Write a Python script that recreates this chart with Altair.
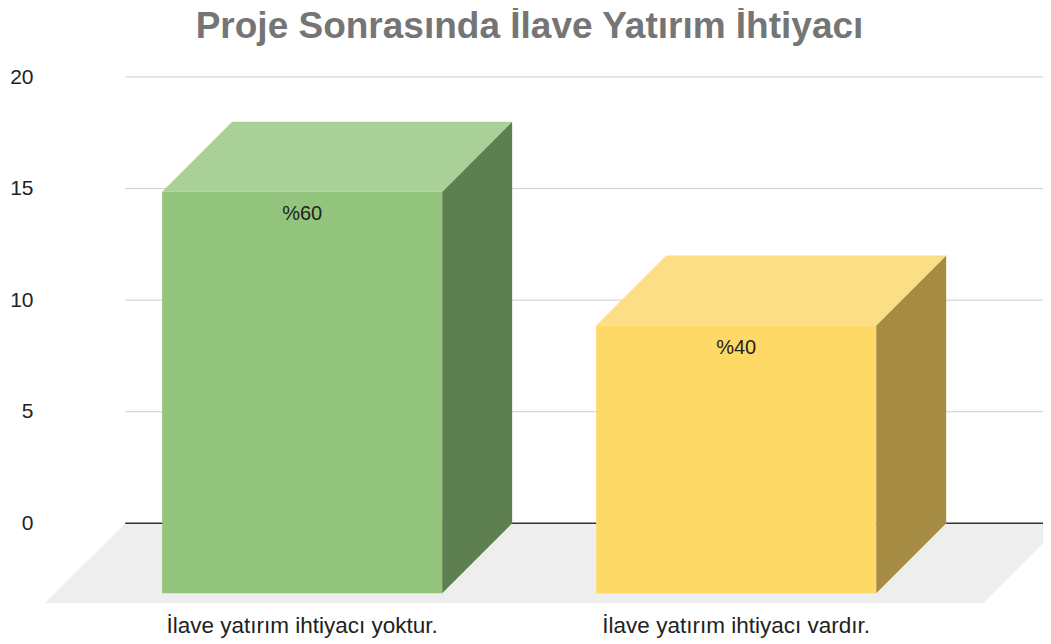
import altair as alt
import pandas as pd

# ---------------- data ----------------
categories = ["İlave yatırım ihtiyacı yoktur.", "İlave yatırım ihtiyacı vardır."]
values = [15, 10]
value_labels = ["%60", "%40"]
axis_ticks = [0, 5, 10, 15, 20]

# ---------------- style ----------------
front_colors = ["#93c47d", "#ffd966"]
top_colors = ["#a9d097", "#fcdf85"]
side_colors = ["#5e7f4f", "#a68b42"]
FLOOR_COLOR = "#eeeeee"
FONT = "Liberation Sans"

W, H = 1003, 526
Y_MIN, Y_MAX = -3.57, 20          # axis units
X_MIN, X_MAX = -0.604, 1.707      # category units (0, 1 = bar centres)
HEIGHT_RATIO = 1.2                # 3D bar height relative to the back-wall axis
BAR_HALF = 0.3226                 # half bar width, category units
BAR_DEPTH_PX = 70
FLOOR_DEPTH_PX = 80
FLOOR_L, FLOOR_R = -0.592, 1.569  # floor front edge, category units

px_y = H / (Y_MAX - Y_MIN)
px_x = W / (X_MAX - X_MIN)
dyb = BAR_DEPTH_PX / px_y
dxb = BAR_DEPTH_PX / px_x
dxf = FLOOR_DEPTH_PX / px_x

# ---------------- geometry tables ----------------
front_rows, top_rows, side_rows, lab_rows = [], [], [], []
for i, (c, v, lab) in enumerate(zip(categories, values, value_labels)):
    t = v * HEIGHT_RATIO
    front_rows.append(dict(cat=c, x=i - BAR_HALF, x2=i + BAR_HALF, y=t - dyb, y2=-dyb,
                           fill=front_colors[i]))
    for xx, lo, hi in [(i - BAR_HALF, t - dyb, t - dyb), (i - BAR_HALF + dxb, t - dyb, t),
                       (i + BAR_HALF, t - dyb, t), (i + BAR_HALF + dxb, t, t)]:
        top_rows.append(dict(cat=c, x=xx, lo=lo, hi=hi, fill=top_colors[i]))
    for xx, lo, hi in [(i + BAR_HALF, -dyb, t - dyb), (i + BAR_HALF + dxb, 0, t)]:
        side_rows.append(dict(cat=c, x=xx, lo=lo, hi=hi, fill=side_colors[i]))
    lab_rows.append(dict(cat=c, x=i, y=t - dyb, label=lab, ybot=Y_MIN))

front_df = pd.DataFrame(front_rows)
top_df = pd.DataFrame(top_rows)
side_df = pd.DataFrame(side_rows)
lab_df = pd.DataFrame(lab_rows)
floor_df = pd.DataFrame([
    dict(x=FLOOR_L, lo=Y_MIN, hi=Y_MIN),
    dict(x=FLOOR_L + dxf, lo=Y_MIN, hi=0),
    dict(x=FLOOR_R, lo=Y_MIN, hi=0),
    dict(x=FLOOR_R + dxf, lo=0, hi=0),
])
grid_df = pd.DataFrame(dict(tick=axis_ticks, x=FLOOR_L + dxf, x2=X_MAX))

xs = alt.Scale(domain=[X_MIN, X_MAX], nice=False, zero=False)
ys = alt.Scale(domain=[Y_MIN, Y_MAX], nice=False, zero=False)
y_axis = alt.Axis(values=axis_ticks, grid=False, domain=False, ticks=False,
                  labelPadding=7, labelFontSize=21, labelColor="#222222",
                  labelFont=FONT, title=None)


def X(f="x"):
    return alt.X(f"{f}:Q", scale=xs, axis=None)


def Y(f="y"):
    return alt.Y(f"{f}:Q", scale=ys, axis=y_axis, stack=None, title=None)


floor = alt.Chart(floor_df).mark_area(orient="vertical", color=FLOOR_COLOR, clip=True).encode(
    x=X(), y=Y("lo"), y2="hi:Q")

grid = alt.Chart(grid_df).transform_filter("datum.tick != 0").mark_rule(
    color="#cccccc", strokeWidth=1).encode(x=X(), x2="x2:Q", y=Y("tick"))

zero = alt.Chart(grid_df).transform_filter("datum.tick == 0").mark_rule(
    color="#333333", strokeWidth=1.5).encode(x=X(), x2="x2:Q", y=Y("tick"))

side = alt.Chart(side_df).mark_area(orient="vertical").encode(
    x=X(), y=Y("lo"), y2="hi:Q", detail="cat:N", color=alt.Color("fill:N", scale=None))
top = alt.Chart(top_df).mark_area(orient="vertical").encode(
    x=X(), y=Y("lo"), y2="hi:Q", detail="cat:N", color=alt.Color("fill:N", scale=None))
front = alt.Chart(front_df).mark_rect().encode(
    x=X(), x2="x2:Q", y=Y(), y2="y2:Q", color=alt.Color("fill:N", scale=None))

vlabels = alt.Chart(lab_df).mark_text(fontSize=20, font=FONT, color="#222222",
                                      baseline="middle", dy=22).encode(
    x=X(), y=Y(), text="label:N")
clabels = alt.Chart(lab_df).mark_text(fontSize=22.5, font=FONT, color="#222222",
                                      baseline="middle", dy=23).encode(
    x=X(), y=Y("ybot"), text="cat:N")

chart = alt.layer(floor, grid, zero, side, top, front, vlabels, clabels).properties(
    width=W, height=H,
    title=alt.TitleParams("Proje Sonrasında İlave Yatırım İhtiyacı", fontSize=37,
                          fontWeight="bold", color="#757575", font=FONT,
                          anchor="middle", dx=-12, offset=20),
    autosize=alt.AutoSizeParams(type="none"),
    padding={"left": 32, "top": 69, "right": 0, "bottom": 36},
).configure_view(stroke=None)

chart.save("out.html", embed_options={"renderer": "svg", "actions": False})
